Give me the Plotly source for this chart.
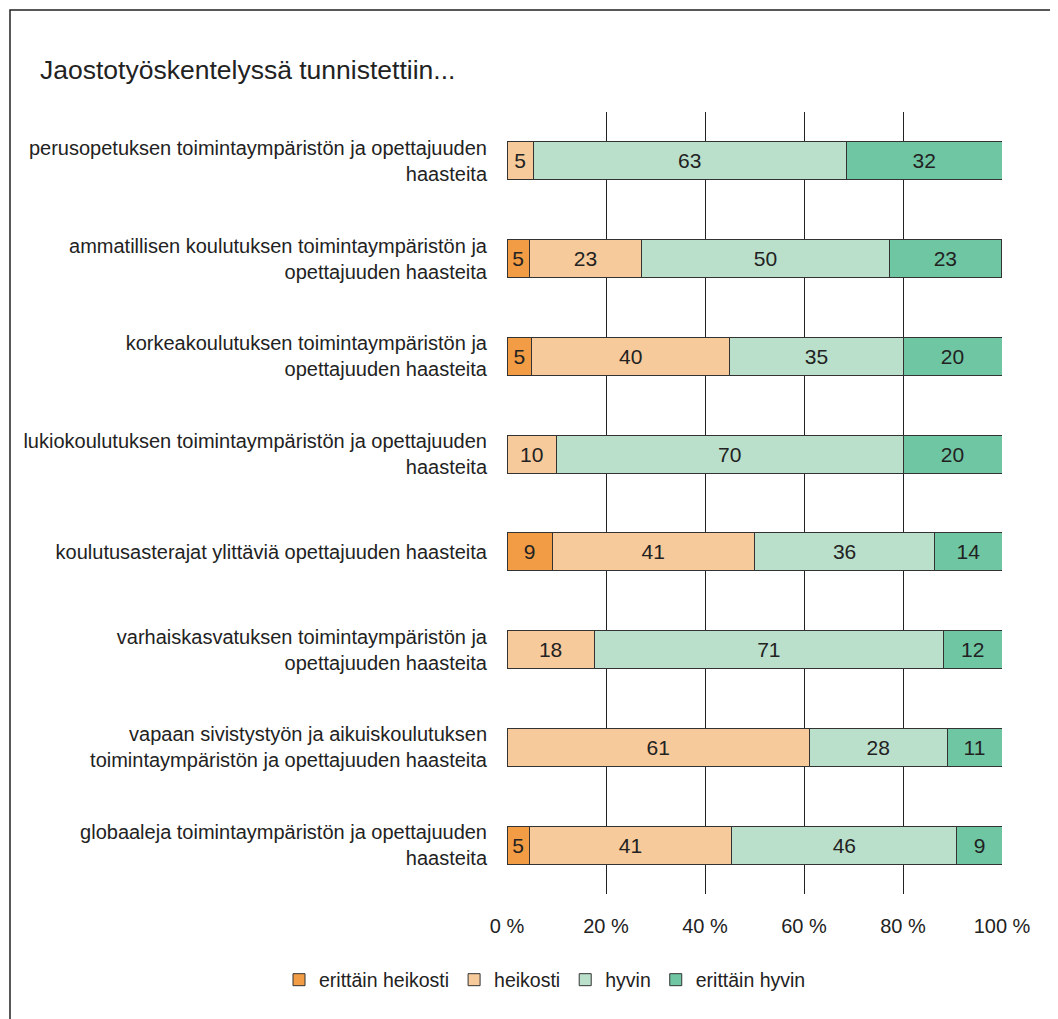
import plotly.graph_objects as go

# Kategoriat (ylhäältä alas)
categories = [
    "perusopetuksen toimintaympäristön ja opettajuuden<br>haasteita",
    "ammatillisen koulutuksen toimintaympäristön ja<br>opettajuuden haasteita",
    "korkeakoulutuksen toimintaympäristön ja<br>opettajuuden haasteita",
    "lukiokoulutuksen toimintaympäristön ja opettajuuden<br>haasteita",
    "koulutusasterajat ylittäviä opettajuuden haasteita",
    "varhaiskasvatuksen toimintaympäristön ja<br>opettajuuden haasteita",
    "vapaan sivistystyön ja aikuiskoulutuksen<br>toimintaympäristön ja opettajuuden haasteita",
    "globaaleja toimintaympäristön ja opettajuuden<br>haasteita",
]

# Osuudet prosentteina
erittain_heikosti = [0, 4.5, 5.0, 0, 9.1, 0, 0, 4.5]
heikosti = [5.3, 22.7, 40.0, 10.0, 40.9, 17.6, 61.1, 40.9]
hyvin = [63.2, 50.0, 35.0, 70.0, 36.4, 70.6, 27.8, 45.5]
erittain_hyvin = [31.6, 22.7, 20.0, 20.0, 13.6, 11.8, 11.1, 9.1]

series = [
    ("erittäin heikosti", erittain_heikosti, "#F29D45"),
    ("heikosti", heikosti, "#F7CA9B"),
    ("hyvin", hyvin, "#BAE0CC"),
    ("erittäin hyvin", erittain_hyvin, "#6FC6A3"),
]

tick_vals = [0, 20, 40, 60, 80, 100]
tick_text = ["0 %", "20 %", "40 %", "60 %", "80 %", "100 %"]

FONT = "Liberation Sans, Arial, sans-serif"
W, H = 1050, 1011  # sivulla on 8 px marginaali

fig = go.Figure()
for name, vals, color in series:
    fig.add_trace(go.Bar(
        y=categories, x=vals, name=name, orientation="h",
        marker=dict(color=color, line=dict(color="#333333", width=1)),
        text=[("%.0f" % round(v + 1e-9) if v > 0 else "") for v in vals],
        textposition="inside", insidetextanchor="middle",
        textfont=dict(size=21, color="#222222", family=FONT),
        width=0.39,
    ))

fig.update_layout(
    barmode="stack",
    width=W, height=H,
    margin=dict(l=499, r=56, t=104, b=125),
    paper_bgcolor="white", plot_bgcolor="white",
    font=dict(family=FONT, size=20, color="#222222"),
    title=dict(text="Jaostotyöskentelyssä tunnistettiin...", x=32 / W, xanchor="left",
               y=1 - 62 / H, yanchor="middle", font=dict(size=26.5, color="#222222")),
    legend=dict(orientation="h", x=-228 / 495, xanchor="left", y=-86 / 782, yanchor="middle",
                font=dict(size=19.5), traceorder="normal", itemwidth=30),
    uniformtext=dict(minsize=10, mode="show"),
)
fig.update_xaxes(range=[0, 100], tickvals=tick_vals, ticktext=tick_text,
                 showgrid=True, gridcolor="#222222", gridwidth=1,
                 zeroline=False, showline=False, ticks="", ticklabelstandoff=18,
                 tickfont=dict(size=20))
fig.update_yaxes(autorange="reversed", showgrid=False, ticks="", showline=False,
                 ticklabelstandoff=19, tickfont=dict(size=20))

# kehys kuvan ympärillä
fig.add_shape(type="rect", xref="paper", yref="paper",
              x0=-497 / 495, x1=1.2, y0=-0.5, y1=1 + 102 / 782,
              line=dict(color="#222222", width=1.5), fillcolor="rgba(0,0,0,0)", layer="below")

fig.write_html("out.html")
